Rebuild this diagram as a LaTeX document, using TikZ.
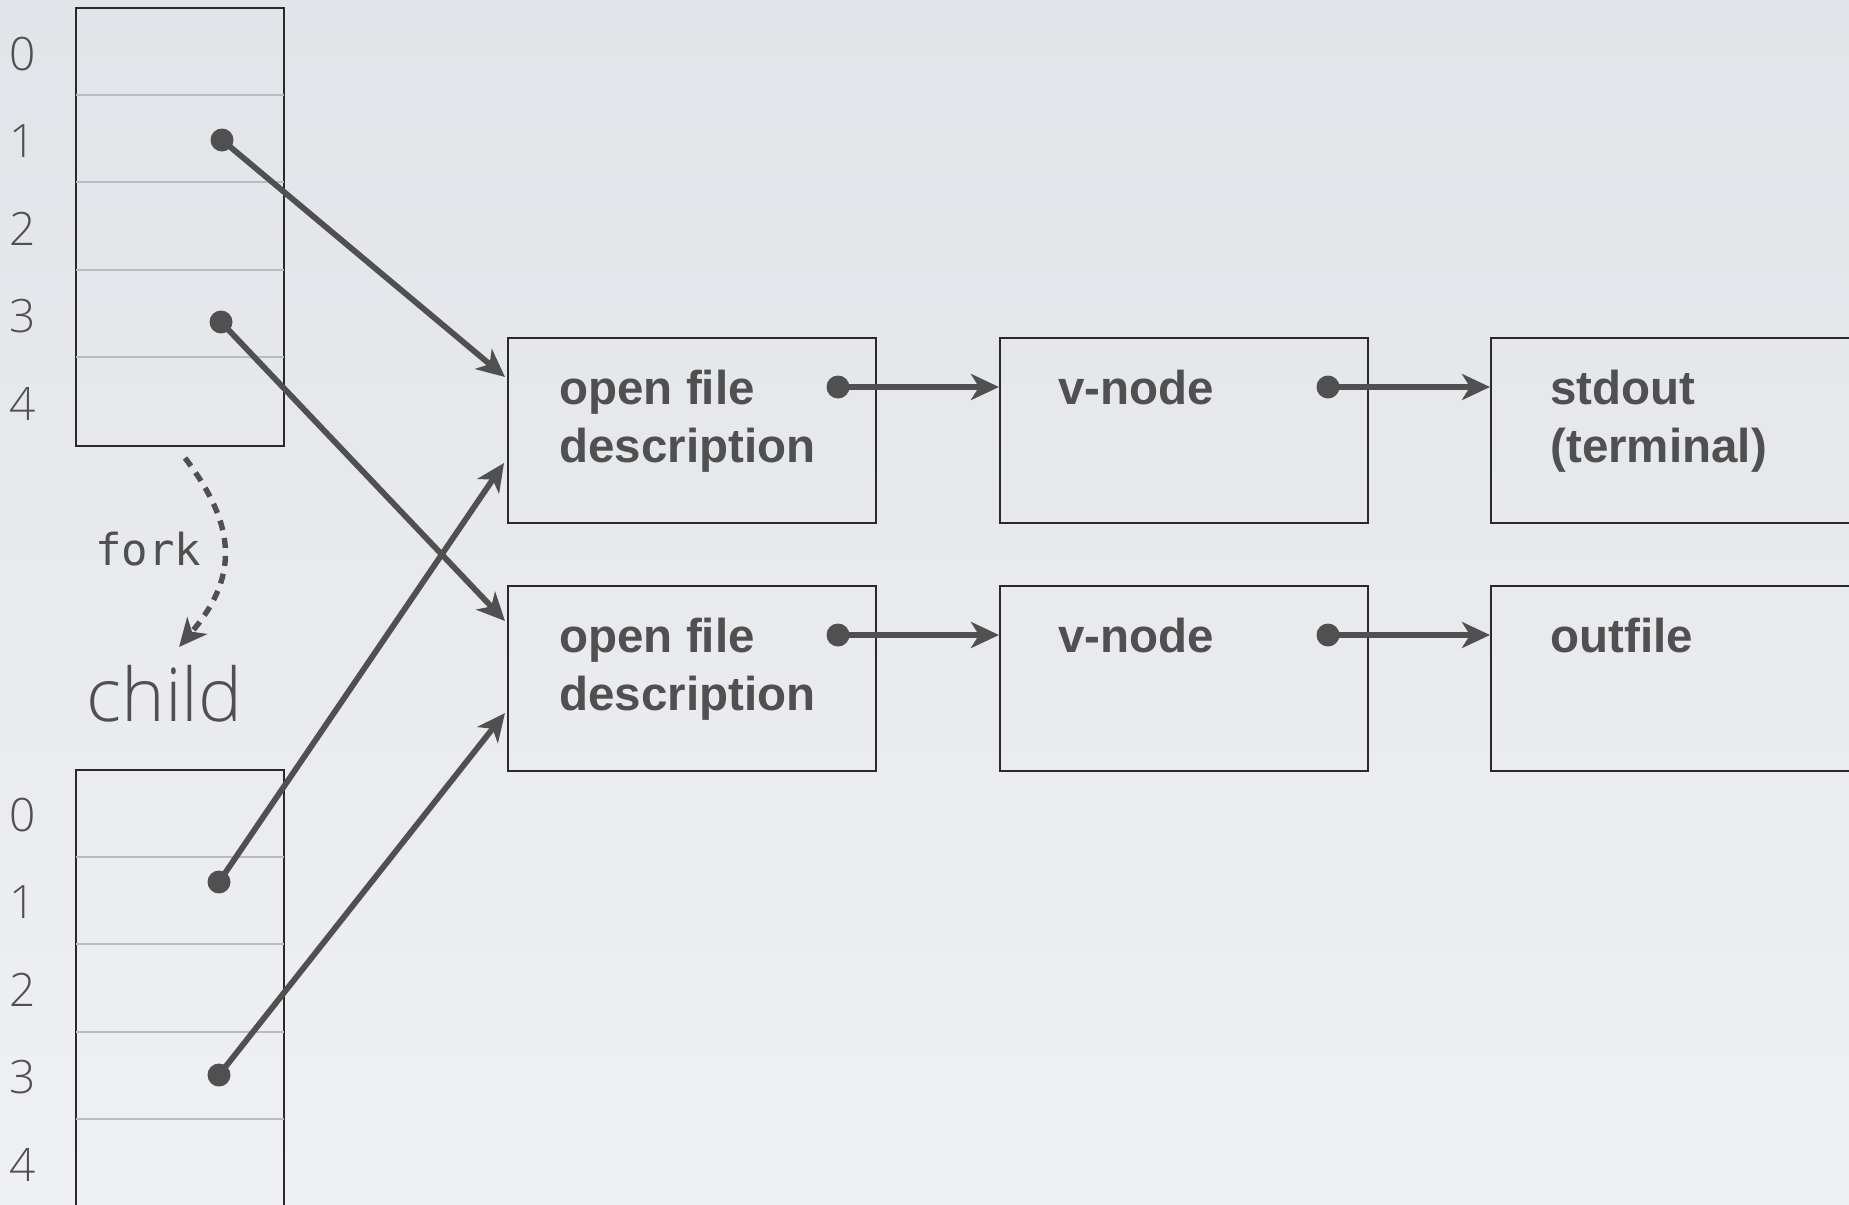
\documentclass[tikz,border=0pt]{standalone}
\usepackage{fontspec}
\setmainfont{Liberation Sans}
\newfontfamily\lightfont{Open Sans Light}
\newfontfamily\forkfont{DejaVu Sans Mono}
\usetikzlibrary{arrows.meta,calc}
\definecolor{bgtop}{HTML}{E1E4E8}
\definecolor{bgbot}{HTML}{EFF0F3}
\definecolor{ink}{HTML}{505050}
\definecolor{edge}{HTML}{2A2A2A}
\definecolor{sepcol}{HTML}{B9BBBE}
\begin{document}
\begin{tikzpicture}[x=0.5pt,y=-0.5pt,
  tabbox/.style={draw=edge,line width=1pt,minimum width=104pt,minimum height=219pt,inner sep=0pt,anchor=north west},
  sepline/.style={draw=sepcol,line width=1pt},
  digit/.style={font=\lightfont\fontsize{23}{23}\selectfont,text=ink,anchor=base,inner sep=0pt},
  fbox/.style={draw=edge,line width=1pt,minimum width=184pt,minimum height=92.5pt,inner sep=0pt,anchor=north west},
  boxtext/.style={font=\bfseries\fontsize{23.75}{29}\selectfont,text=ink,anchor=base west,inner sep=0pt},
  dot/.style={circle,fill=ink,minimum size=11.5pt,inner sep=0pt},
  conn/.style={draw=ink,line width=2.9pt,-{Stealth[length=14pt,width=13pt,inset=4pt]}},
  forkline/.style={draw=ink,line width=2.7pt,dash pattern=on 5pt off 4pt,-{Stealth[length=14pt,width=13pt,inset=4pt]}},
]
\useasboundingbox (0,0) rectangle (1849,1205);
\clip (0,0) rectangle (1849,1205);
\fill[top color=bgtop,bottom color=bgbot] (0,0) rectangle (1849,1205);

% parent table
\node[tabbox] (ptab) at (75,7) {};
\foreach \k in {1,...,4}
  \draw[sepline] ($(ptab.north west)+(1,87.5*\k)$) -- ($(ptab.north east)+(-1,87.5*\k)$);
\foreach \k in {0,...,4}
  \node[digit] (pn\k) at (23,70+87.5*\k) {\k};
\node[dot] (pd1) at (222,140) {};
\node[dot] (pd3) at (221,322) {};

% child table
\node[tabbox,minimum height=218.5pt] (ctab) at (75,769) {};
\foreach \k in {1,...,4}
  \draw[sepline] ($(ctab.north west)+(1,87.5*\k)$) -- ($(ctab.north east)+(-1,87.5*\k)$);
\foreach \k in {0,...,4}
  \node[digit] (cn\k) at (23,831+87.5*\k) {\k};
\node[dot] (cd1) at (219,882) {};
\node[dot] (cd3) at (219,1075) {};

% fork
\node[font=\forkfont\fontsize{22}{22}\selectfont,text=ink,anchor=base west,inner sep=0pt] (fork) at (95,565) {fork};
\node[font=\lightfont\fontsize{37}{37}\selectfont,text=ink,anchor=base west,inner sep=0pt] (child) at (86,721) {child};
\coordinate (fk0) at ($(ptab.south west)+(110,11)$);
\coordinate (fk1) at ($(ctab.north west)+(104,-122)$);
\draw[forkline] (fk0) .. controls (240,530) and (236,580) .. (fk1);

% boxes
\node[fbox] (ofd1) at (507,337) {};
\node[fbox] (ofd2) at (507,585) {};
\node[fbox] (vn1) at (999,337) {};
\node[fbox] (vn2) at (999,585) {};
\node[fbox,minimum width=250pt] (dev1) at (1490,337) {};
\node[fbox,minimum width=250pt] (dev2) at (1490,585) {};

\node[boxtext] (tofd1) at (559,404) {\vtop{\hbox{open file}\hbox{description}}};
\node[boxtext] (tofd2) at (559,652) {\vtop{\hbox{open file}\hbox{description}}};
\node[boxtext] (tvn1) at (1058,404) {v-node};
\node[boxtext] (tvn2) at (1058,652) {v-node};
\node[boxtext] (tdev1) at (1550,404) {\vtop{\hbox{stdout}\hbox{(terminal)}}};
\node[boxtext] (tdev2) at (1550,652) {outfile};

\node[dot] (od1) at (838,387) {};
\node[dot] (od2) at (838,635) {};
\node[dot] (vd1) at (1328,387) {};
\node[dot] (vd2) at (1328,635) {};

\draw[conn] (od1.center) -- (od1.center -| vn1.west);
\draw[conn] (od2.center) -- (od2.center -| vn2.west);
\draw[conn] (vd1.center) -- (vd1.center -| dev1.west);
\draw[conn] (vd2.center) -- (vd2.center -| dev2.west);

\coordinate (a11) at ($(ofd1.north west)+(-2,40)$);
\coordinate (a12) at ($(ofd1.north west)+(-3,126)$);
\coordinate (a21) at ($(ofd2.north west)+(-2,36)$);
\coordinate (a22) at ($(ofd2.north west)+(-2,128)$);

\draw[conn] (pd1.center) -- (a11);
\draw[conn] (pd3.center) -- (a21);
\draw[conn] (cd1.center) -- (a12);
\draw[conn] (cd3.center) -- (a22);
\end{tikzpicture}
\end{document}
